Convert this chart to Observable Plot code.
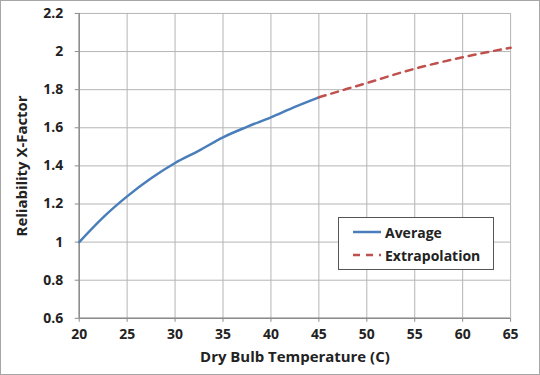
<!DOCTYPE html>
<html>
<head>
<meta charset="utf-8">
<script src="https://cdn.jsdelivr.net/npm/d3@7"></script>
<script src="https://cdn.jsdelivr.net/npm/@observablehq/plot@0.6"></script>
<style>
  html, body { margin: 0; padding: 0; background: #fff; }
  #wrap { position: relative; width: 540px; height: 375px; box-sizing: border-box; border: 1px solid #a6a6a6; overflow: hidden; }
  #wrap > svg { position: absolute; left: -1px; top: -1px; }
  #legend { position: absolute; left: 337px; top: 216px; width: 156px; height: 53px; box-sizing: border-box;
    border: 1px solid #555; background: #fff; font-family: "Open Sans", "Liberation Sans", sans-serif; font-weight: bold; font-size: 14px; color: #222; }
  #legend .row { position: absolute; left: 13px; height: 20px; display: flex; align-items: center; }
  #legend .row svg { display: block; margin-right: 3px; }
</style>
</head>
<body>
<div id="wrap"></div>
<script>
const avgTemp  = [20, 22.5, 25, 27.5, 30, 32.5, 35, 37.5, 40, 42.5, 45];
const avgValue = [1.0, 1.13, 1.24, 1.335, 1.415, 1.48, 1.55, 1.605, 1.655, 1.71, 1.76];
const extTemp  = [45, 50, 55, 60, 65];
const extValue = [1.76, 1.835, 1.91, 1.97, 2.02];
const xTicks = [20, 25, 30, 35, 40, 45, 50, 55, 60, 65];
const yTicks = [0.6, 0.8, 1, 1.2, 1.4, 1.6, 1.8, 2, 2.2];
const seriesNames = ["Average", "Extrapolation"];
const colors = ["#4a7ebb", "#c0504d"];

const avg = avgTemp.map((t, i) => ({t, v: avgValue[i]}));
const ext = extTemp.map((t, i) => ({t, v: extValue[i]}));
const fmtY = d => String(+d.toFixed(1));

const chart = Plot.plot({
  width: 540, height: 375,
  marginLeft: 79, marginRight: 28, marginTop: 13, marginBottom: 56,
  style: {fontFamily: "'Open Sans', 'Liberation Sans', sans-serif", fontSize: "14px", fontWeight: "bold", color: "#222", background: "transparent"},
  x: {domain: [20, 65], label: null},
  y: {domain: [0.6, 2.2], label: null},
  marks: [
    Plot.gridX(xTicks, {stroke: "#b5b5b5", strokeOpacity: 1, strokeWidth: 1}),
    Plot.gridY(yTicks, {stroke: "#b5b5b5", strokeOpacity: 1, strokeWidth: 1}),
    Plot.ruleX([20], {stroke: "#8c8c8c", strokeWidth: 1.5}),
    Plot.ruleY([0.6], {stroke: "#8c8c8c", strokeWidth: 1.5}),
    Plot.line(avg, {x: "t", y: "v", stroke: colors[0], strokeWidth: 2.5, curve: "monotone-x"}),
    Plot.line(ext, {x: "t", y: "v", stroke: colors[1], strokeWidth: 2.5, strokeDasharray: "7,6", curve: "monotone-x"}),
    Plot.axisX({ticks: xTicks, tickSize: 4, tickPadding: 7, stroke: "#8c8c8c", fontSize: 14, fontWeight: "bold", label: null, tickFormat: d => String(d)}),
    Plot.axisY({ticks: yTicks, tickSize: 4, tickPadding: 12, stroke: "#8c8c8c", fontSize: 14, fontWeight: "bold", label: null, tickFormat: fmtY}),
    Plot.text(["Dry Bulb Temperature (C)"], {frameAnchor: "bottom", dy: 44, fontSize: 15, fontWeight: "bold", fill: "#222"}),
    Plot.text(["Reliability X-Factor"], {frameAnchor: "left", dx: -57, rotate: -90, textAnchor: "middle", fontSize: 15, fontWeight: "bold", fill: "#222"})
  ]
});
const wrap = document.getElementById("wrap");
wrap.appendChild(chart);

const legend = document.createElement("div");
legend.id = "legend";
seriesNames.forEach((name, i) => {
  const row = document.createElement("div");
  row.className = "row";
  row.style.top = (i === 0 ? 4 : 27) + "px";
  const dash = i === 1 ? 'stroke-dasharray="7,6"' : '';
  row.innerHTML = `<svg width="30" height="10"><line x1="1" y1="5" x2="29" y2="5" stroke="${colors[i]}" stroke-width="2.5" ${dash}/></svg><span>${name}</span>`;
  legend.appendChild(row);
});
wrap.appendChild(legend);
</script>
</body>
</html>
